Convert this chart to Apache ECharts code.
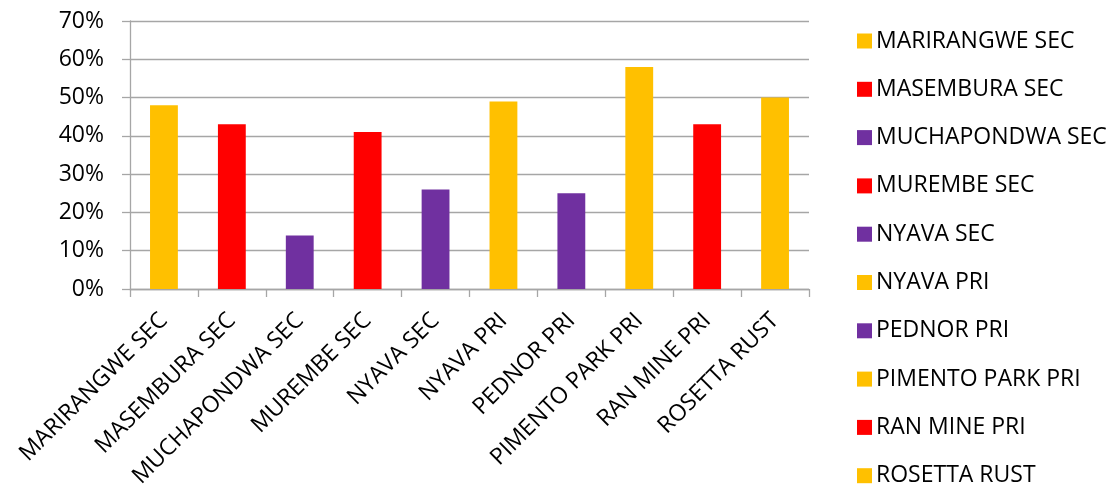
<!DOCTYPE html>
<html>
<head>
<meta charset="utf-8">
<script src="https://cdn.jsdelivr.net/npm/echarts@6/dist/echarts.min.js"></script>
<style>
  html, body { margin: 0; padding: 0; background: #fff; }
  #chart { width: 1116px; height: 501px; }
</style>
</head>
<body>
<div id="chart"></div>
<script>
// Schools shown along the category axis
const schools = [
  'MARIRANGWE SEC', 'MASEMBURA SEC', 'MUCHAPONDWA SEC', 'MUREMBE SEC', 'NYAVA SEC',
  'NYAVA PRI', 'PEDNOR PRI', 'PIMENTO PARK PRI', 'RAN MINE PRI', 'ROSETTA RUST'
];
// Share per school, as fractions
const shares = [0.48, 0.43, 0.14, 0.41, 0.26, 0.49, 0.25, 0.58, 0.43, 0.50];
// Bar fill per school
const barColors = [
  '#FFC000', '#FF0000', '#7030A0', '#FF0000', '#7030A0',
  '#FFC000', '#7030A0', '#FFC000', '#FF0000', '#FFC000'
];
// Value axis range and step
const yMin = 0, yMax = 0.7, yStep = 0.1;

const FONT = '"Open Sans", Lato, sans-serif';
const FONT_SIZE = 23;

// One series per school so every school gets its own legend entry;
// stacking keeps each bar centred on its own category.
const series = schools.map((name, i) => ({
  name: name,
  type: 'bar',
  stack: 'all',
  barWidth: '41%',
  itemStyle: { color: barColors[i] },
  data: schools.map((_, j) => (j === i ? shares[i] : '-'))
}));

const chart = echarts.init(document.getElementById('chart'), null, { renderer: 'canvas' });
chart.setOption({
  animation: false,
  backgroundColor: '#fff',
  textStyle: { fontFamily: FONT },
  grid: { left: 130, right: 307, top: 21, bottom: 212, containLabel: false },
  legend: {
    orient: 'vertical',
    left: 852,
    top: 24,
    itemWidth: 15,
    itemHeight: 15,
    itemGap: 24.3,
    icon: 'rect',
    data: schools,
    textStyle: { fontFamily: FONT, fontSize: FONT_SIZE, color: '#000', lineHeight: 24, padding: [0, 0, 0, -1] }
  },
  xAxis: {
    type: 'category',
    data: schools,
    boundaryGap: true,
    axisLine: { show: true, lineStyle: { color: '#A6A6A6', width: 1.3 } },
    axisTick: { show: true, length: 8, alignWithLabel: false, lineStyle: { color: '#A6A6A6', width: 1.3 } },
    axisLabel: {
      interval: 0,
      rotate: 45,
      margin: 28,
      fontFamily: FONT,
      fontSize: FONT_SIZE,
      color: '#000'
    }
  },
  yAxis: {
    type: 'value',
    min: yMin,
    max: yMax,
    interval: yStep,
    axisLine: { show: true, lineStyle: { color: '#A6A6A6', width: 1.3 } },
    axisTick: { show: true, length: 8, lineStyle: { color: '#A6A6A6', width: 1.3 } },
    splitLine: { show: true, lineStyle: { color: '#A6A6A6', width: 1.3 } },
    axisLabel: {
      margin: 26,
      fontFamily: FONT,
      fontSize: FONT_SIZE,
      color: '#000',
      formatter: v => Math.round(v * 100) + '%'
    }
  },
  series: series
});
</script>
</body>
</html>
